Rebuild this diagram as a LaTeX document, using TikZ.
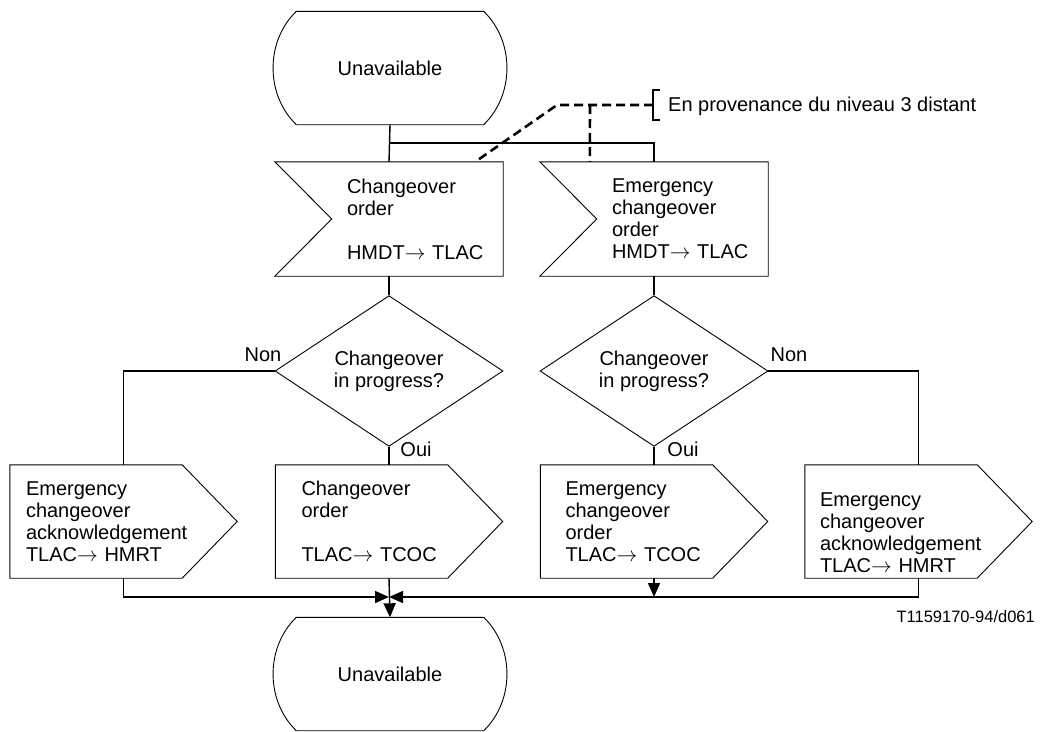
\documentclass[tikz,border=0pt]{standalone}
\usepackage{fontspec}
\setmainfont{Liberation Sans}
\usetikzlibrary{arrows.meta, calc, shapes.geometric}
\hyphenpenalty=10000
\tikzset{
  edge/.style={draw, line width=0.9pt},
  box/.style={inner sep=0pt, font=\fontsize{20}{22}\selectfont, align=left},
  stat/.style={box, minimum width=225, minimum height=113, align=center},
  insig/.style={box, minimum height=114, inner xsep=72, text width=84},
  outsig/.style={box, minimum height=113},
  cond/.style={edge, diamond, minimum width=228, minimum height=132, inner sep=0pt, align=center, font=\fontsize{20}{22}\selectfont},
  wire/.style={line width=1.4pt},
  flow/.style={wire, -{Triangle[length=14pt, width=12pt]}},
  tlab/.style={font=\fontsize{20}{22}\selectfont, inner sep=0pt},
  dline/.style={line width=2.6pt, dash pattern=on 9pt off 5pt}
}
\newcommand{\stateoutline}[1]{\draw[edge] ($(#1.north west)+(19,0)$) -- ($(#1.north east)+(-19,0)$) .. controls ($(#1.north east)+(12,30)$) and ($(#1.south east)+(12,-30)$) .. ($(#1.south east)+(-19,0)$) -- ($(#1.south west)+(19,0)$) .. controls ($(#1.south west)+(-12,-30)$) and ($(#1.north west)+(-12,30)$) .. cycle;}
\newcommand{\inoutline}[1]{\draw[edge] (#1.north west) -- (#1.north east) -- (#1.south east) -- (#1.south west) -- ($(#1.west)+(57,0)$) -- cycle;}
\newcommand{\outoutline}[1]{\draw[edge] (#1.north west) -- ($(#1.north east)+(-55,0)$) -- (#1.east) -- ($(#1.south east)+(-55,0)$) -- (#1.south west) -- cycle;}
\begin{document}
\begin{tikzpicture}[x=1pt, y=-1pt]
	\useasboundingbox (0,0) rectangle (1044,731);
	% states
	\node[stat] (s0) at (390,68) {Unavailable};
	\node[stat] (s1) at (390,674) {Unavailable};
	\stateoutline{s0}
	\stateoutline{s1}
	% input signals
	\node[insig] (in0) at (389,219) {Changeover\\order\\[22pt]HMDT$\rightarrow$~TLAC};
	\node[insig] (in1) at (654,219) {Emergency\\changeover\\order\\HMDT$\rightarrow$~TLAC};
	\inoutline{in0}
	\inoutline{in1}
	% decisions
	\node[cond] (d0) at (389,371) {Changeover\\in progress?};
	\node[cond] (d1) at (654,371) {Changeover\\in progress?};
	% output signals
	\node[outsig, inner xsep=16, text width=195] (o0) at (123.5,521.5) {Emergency\\changeover\\acknowledgement\\TLAC$\rightarrow$~HMRT};
	\node[outsig, inner xsep=26, text width=175] (o1) at (389,521.5) {Changeover\\order\\[22pt]TLAC$\rightarrow$~TCOC};
	\node[outsig, inner xsep=25, text width=177] (o2) at (654,521.5) {Emergency\\changeover\\order\\TLAC$\rightarrow$~TCOC};
	\node[outsig, inner xsep=15, text width=197, text height=36pt] (o3) at (918.5,521.5) {Emergency\\changeover\\acknowledgement\\TLAC$\rightarrow$~HMRT};
	\foreach \n in {o0,o1,o2,o3} {\outoutline{\n}}
	% connectors
	\coordinate (j0) at (389,143);
	\coordinate (m0) at (389,597);
	\draw[wire] (s0.south) -- (in0.north);
	\draw[wire] (j0) -| (in1.north);
	\draw[wire] (in0.south) -- (d0.north);
	\draw[wire] (in1.south) -- (d1.north);
	\draw[wire] (d0.west) -| (o0.north);
	\draw[wire] (d0.south) -- (o1.north);
	\draw[wire] (d1.east) -| (o3.north);
	\draw[wire] (d1.south) -- (o2.north);
	\draw[flow] (o0.south) |- (m0);
	\draw[flow] (o3.south) |- (m0);
	\draw[flow] (o2.south) -- (o2.south |- m0);
	\draw[flow] (o1.south) -- (s1.north);
	\node[tlab] (n0) at (263,355) {Non};
	\node[tlab] (n1) at (789,355) {Non};
	\node[tlab] (y0) at (416,449) {Oui};
	\node[tlab] (y1) at (683,449) {Oui};
	% remote level 3
	\node[tlab, anchor=west] (src) at (668,106) {En provenance du niveau 3 distant};
	\coordinate (bk) at (653,105);
	\coordinate (k0) at (557,105);
	\coordinate (k1) at (590,105);
	\draw[line width=1.2pt] ($(bk)+(7,-15)$) -- ($(bk)+(0,-15)$) -- ($(bk)+(0,15)$) -- ($(bk)+(7,15)$);
	\draw[dline] (bk) -- (k0) -- ($(in0.north east)+(-28,0)$);
	\draw[dline] (k1) -- ($(in1.north west)+(50,0)$);
	\node[font=\fontsize{16.5}{18}\selectfont, anchor=east, inner sep=0pt] (ref) at (1035,617) {T1159170-94/d061};
\end{tikzpicture}
\end{document}
